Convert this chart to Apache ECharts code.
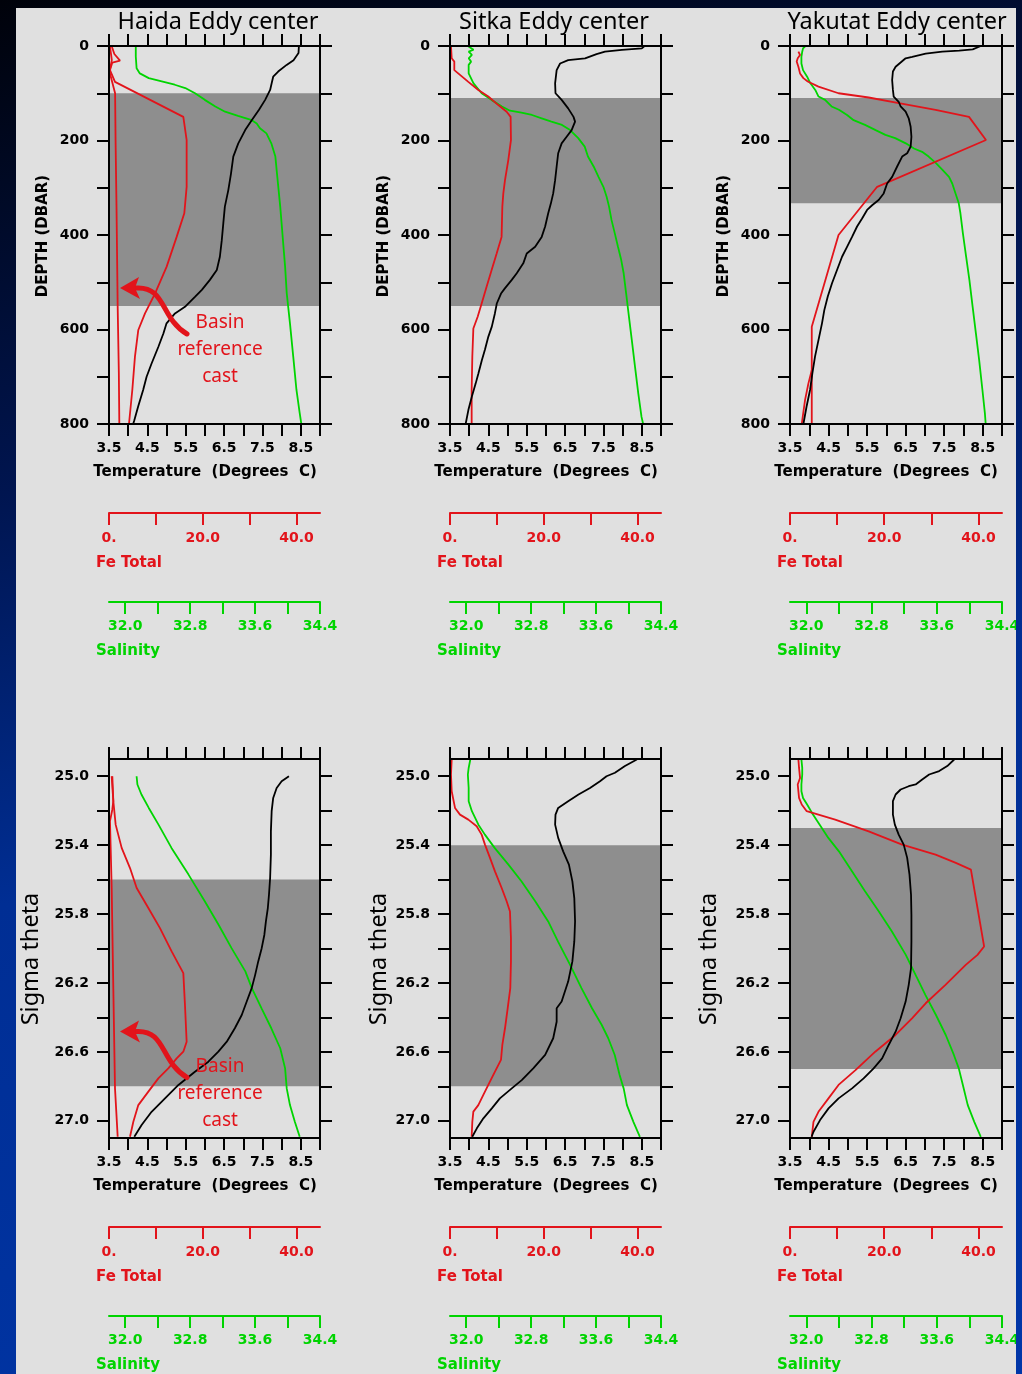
<!DOCTYPE html>
<html><head><meta charset="utf-8">
<script src="https://cdn.jsdelivr.net/npm/echarts@6/dist/echarts.min.js"></script>
<style>
html,body{margin:0;padding:0;width:1022px;height:1374px;overflow:hidden;
background:linear-gradient(165deg,#00020a 0%,#001550 30%,#002e94 55%,#0036a8 100%);}
#panel{position:absolute;left:16px;top:8px;width:1000px;height:1366px;background:#e0e0e0;overflow:hidden;}
#chart{position:absolute;left:0;top:0;width:1000px;height:1366px;}
</style></head><body><div id="panel"><div id="chart"></div></div>
<script>
// ---------- tick / label values ----------
const TEMP_TICKS = [3.5,4.0,4.5,5.0,5.5,6.0,6.5,7.0,7.5,8.0,8.5,9.0];
const TEMP_LABELS = [3.5,4.5,5.5,6.5,7.5,8.5];
const FE_TICKS = [0,10,20,30,40];
const FE_LABELS = [0,20,40];
const SAL_TICKS = [32.0,32.4,32.8,33.2,33.6,34.0,34.4];
const SAL_LABELS = [32.0,32.8,33.6,34.4];
const DEPTH_TICKS = [0,100,200,300,400,500,600,700,800];
const DEPTH_LABELS = [0,200,400,600,800];
const SIGMA_TICKS = [25.0,25.2,25.4,25.6,25.8,26.0,26.2,26.4,26.6,26.8,27.0];
const SIGMA_LABELS = [25.0,25.4,25.8,26.2,26.6,27.0];
const TITLES = ['Haida Eddy center','Sitka Eddy center','Yakutat Eddy center'];

// shaded layers [top, bottom]
const SHADE_DEPTH = [[100,550],[110,550],[110,333]];
const SHADE_SIGMA = [[25.6,26.8],[25.4,26.8],[25.3,26.7]];

// ---------- data: [depth, value] ----------
const haidaTopTemp = [[0,8.45],[15,8.44],[30,8.31],[40,8.13],[54,7.91],[65,7.78],[79,7.74],[93,7.70],[114,7.57],[135,7.41],[157,7.22],[178,7.05],[206,6.87],[234,6.74],[270,6.68],[305,6.61],[340,6.52],[375,6.48],[411,6.44],[446,6.39],[474,6.31],[495,6.13],[516,5.92],[531,5.74],[552,5.48],[566,5.22],[587,5.00],[608,4.92],[636,4.79],[672,4.61],[700,4.48],[728,4.39],[763,4.26],[792,4.16],[800,4.13]];
const haidaTopSal = [[0,32.13],[22,32.13],[47,32.14],[58,32.18],[68,32.29],[75,32.45],[82,32.61],[89,32.74],[100,32.86],[114,32.98],[128,33.11],[139,33.23],[148,33.39],[157,33.56],[164,33.62],[174,33.66],[185,33.74],[206,33.80],[234,33.85],[270,33.87],[305,33.89],[340,33.91],[382,33.93],[425,33.95],[467,33.97],[523,33.99],[587,34.03],[657,34.07],[728,34.11],[777,34.15],[800,34.17]];
const haidaTopFe = [[0,0.57],[17,1.14],[31,2.35],[35,0.71],[51,0.21],[76,1.28],[150,15.85],[199,16.56],[298,16.56],[354,16.06],[404,14.43],[467,12.30],[524,9.81],[566,7.68],[601,6.25],[657,5.54],[728,4.97],[800,4.26]];
const haidaTopFeRef = [[0,0.2],[30,0.6],[54,0.1],[100,1.3],[199,1.4],[340,1.6],[552,1.85],[693,2.1],[800,2.2]];

const sitkaTopTemp = [[0,8.57],[5,8.50],[8,7.98],[12,7.54],[17,7.32],[26,7.02],[30,6.58],[37,6.37],[51,6.28],[79,6.24],[100,6.25],[114,6.41],[132,6.58],[150,6.72],[160,6.76],[178,6.67],[192,6.54],[206,6.41],[227,6.32],[255,6.28],[284,6.24],[312,6.19],[333,6.13],[354,6.06],[382,5.98],[404,5.89],[425,5.72],[439,5.50],[460,5.41],[481,5.24],[495,5.11],[513,4.93],[524,4.83],[545,4.72],[566,4.67],[594,4.59],[615,4.50],[643,4.41],[665,4.33],[693,4.24],[714,4.17],[742,4.07],[770,3.98],[799,3.91]];
const sitkaTopSal = [[0,32.02],[8,32.09],[12,32.03],[19,32.07],[26,32.03],[33,32.06],[40,32.03],[58,32.03],[79,32.09],[100,32.19],[114,32.31],[128,32.44],[137,32.54],[141,32.68],[146,32.81],[153,32.93],[160,33.05],[167,33.18],[178,33.28],[195,33.38],[213,33.46],[234,33.50],[255,33.57],[277,33.63],[298,33.69],[319,33.73],[340,33.76],[368,33.79],[396,33.83],[425,33.87],[453,33.91],[481,33.94],[523,33.97],[566,34.00],[622,34.04],[679,34.08],[735,34.12],[785,34.16],[800,34.18]];
const sitkaTopFe = [[0,0.21],[26,0.36],[33,0.92],[51,0.92],[61,2.13],[76,3.91],[93,6.04],[107,8.17],[125,10.3],[139,12.08],[150,12.93],[199,13.0],[241,12.44],[284,11.73],[312,11.37],[340,11.16],[404,11.0],[439,9.95],[474,8.88],[509,7.82],[545,6.75],[573,5.9],[598,4.98],[657,4.76],[728,4.62],[800,4.62]];

const yakTopTemp = [[0,8.45],[7,8.24],[10,7.89],[12,7.45],[16,7.02],[23,6.67],[26,6.50],[35,6.37],[44,6.24],[54,6.17],[72,6.15],[93,6.17],[107,6.19],[118,6.32],[128,6.37],[139,6.50],[153,6.58],[171,6.63],[192,6.65],[213,6.63],[227,6.54],[234,6.41],[255,6.28],[277,6.15],[291,6.02],[312,5.93],[326,5.80],[337,5.63],[347,5.50],[365,5.37],[382,5.24],[404,5.11],[425,4.98],[446,4.85],[474,4.72],[502,4.59],[530,4.48],[559,4.39],[587,4.33],[622,4.24],[657,4.15],[693,4.08],[728,4.02],[763,3.93],[799,3.85]];
const yakTopSal = [[0,31.99],[5,31.96],[12,31.95],[23,31.94],[37,31.94],[51,31.96],[65,32.01],[79,32.05],[93,32.11],[107,32.15],[114,32.23],[128,32.31],[135,32.40],[146,32.50],[157,32.58],[167,32.72],[178,32.85],[188,32.97],[195,33.09],[206,33.22],[217,33.32],[224,33.42],[234,33.50],[248,33.59],[262,33.67],[277,33.75],[291,33.79],[312,33.83],[333,33.87],[354,33.89],[396,33.92],[446,33.96],[495,34.00],[552,34.04],[608,34.08],[665,34.12],[728,34.16],[777,34.19],[800,34.20]];
const yakTopFe = [[12,1.78],[19,2.13],[26,1.64],[33,1.42],[44,1.78],[58,2.13],[68,2.84],[75,3.77],[86,6.04],[100,10.3],[109,16.7],[121,23.1],[135,30.9],[150,38.0],[199,41.6],[298,18.5],[400,10.3],[594,4.62],[800,4.62]];
const yakTopFe2 = [[686,4.62],[714,3.91],[749,3.2],[800,2.49]];

// ---------- data: [sigma-theta, value] ----------
const haidaBotTemp = [[25.0,8.19],[25.029,8.0],[25.068,7.87],[25.126,7.78],[25.203,7.74],[25.32,7.72],[25.397,7.72],[25.455,7.72],[25.591,7.70],[25.688,7.67],[25.765,7.64],[25.843,7.59],[25.92,7.55],[25.998,7.48],[26.075,7.39],[26.153,7.31],[26.23,7.22],[26.308,7.09],[26.386,6.96],[26.463,6.78],[26.541,6.57],[26.599,6.35],[26.657,6.09],[26.715,5.74],[26.792,5.31],[26.87,4.96],[26.948,4.61],[27.025,4.35],[27.093,4.16]];
const haidaBotSal = [[25.0,32.14],[25.048,32.15],[25.106,32.20],[25.184,32.29],[25.281,32.41],[25.416,32.57],[25.571,32.78],[25.726,32.98],[25.862,33.15],[25.998,33.31],[26.133,33.48],[26.23,33.56],[26.347,33.68],[26.463,33.80],[26.579,33.91],[26.696,33.97],[26.812,33.99],[26.909,34.03],[27.006,34.09],[27.093,34.15]];
const haidaBotFe = [[25.0,0.71],[25.144,0.92],[25.281,1.42],[25.416,2.70],[25.533,4.48],[25.649,5.90],[25.765,8.39],[25.882,10.87],[26.017,13.36],[26.143,15.85],[26.327,16.2],[26.541,16.56],[26.599,15.85],[26.638,14.43],[26.696,12.65],[26.754,10.52],[26.831,8.39],[26.909,6.25],[27.006,5.19],[27.093,4.48]];
const haidaBotFeRef = [[25.0,0.57],[25.144,0.92],[25.155,1.28],[25.193,0.71],[25.261,0.21],[25.649,0.57],[26.23,0.92],[26.812,1.28],[27.093,1.85]];

const sitkaBotTemp = [[24.903,8.37],[24.941,8.06],[24.98,7.80],[25.0,7.58],[25.029,7.41],[25.068,7.15],[25.106,6.85],[25.145,6.58],[25.184,6.32],[25.223,6.25],[25.281,6.24],[25.358,6.32],[25.436,6.45],[25.513,6.60],[25.61,6.69],[25.707,6.74],[25.843,6.76],[25.959,6.74],[26.075,6.69],[26.192,6.58],[26.308,6.41],[26.347,6.28],[26.425,6.28],[26.521,6.19],[26.618,5.98],[26.696,5.67],[26.764,5.37],[26.812,5.11],[26.87,4.80],[26.928,4.59],[26.986,4.37],[27.044,4.20],[27.093,4.08]];
const sitkaBotSal = [[24.903,32.05],[24.952,32.03],[24.99,32.02],[25.068,32.03],[25.145,32.03],[25.203,32.07],[25.281,32.15],[25.339,32.23],[25.416,32.35],[25.513,32.52],[25.61,32.68],[25.726,32.85],[25.843,33.01],[25.959,33.13],[26.095,33.28],[26.23,33.42],[26.347,33.55],[26.444,33.67],[26.521,33.75],[26.618,33.83],[26.734,33.89],[26.812,33.94],[26.909,33.98],[27.006,34.06],[27.093,34.14]];
const sitkaBotFe = [[24.903,0.36],[24.99,0.21],[25.087,0.36],[25.184,1.07],[25.223,2.13],[25.252,3.91],[25.29,5.69],[25.339,6.75],[25.397,7.46],[25.474,8.53],[25.552,9.59],[25.649,11.02],[25.726,12.08],[25.785,12.79],[25.94,13.0],[26.075,13.0],[26.23,12.86],[26.347,12.3],[26.463,11.73],[26.56,11.16],[26.647,10.87],[26.715,9.59],[26.792,8.17],[26.85,7.11],[26.909,6.04],[26.947,4.98],[27.006,4.76],[27.093,4.62]];

const yakBotTemp = [[24.903,7.76],[24.941,7.58],[24.97,7.37],[24.99,7.11],[25.019,6.93],[25.048,6.76],[25.058,6.58],[25.077,6.37],[25.106,6.24],[25.145,6.17],[25.223,6.17],[25.281,6.22],[25.339,6.32],[25.397,6.45],[25.474,6.54],[25.571,6.60],[25.688,6.64],[25.804,6.65],[25.959,6.65],[26.114,6.64],[26.211,6.58],[26.308,6.50],[26.405,6.37],[26.483,6.24],[26.56,6.06],[26.638,5.89],[26.696,5.67],[26.754,5.41],[26.812,5.11],[26.87,4.76],[26.928,4.50],[26.996,4.28],[27.064,4.11],[27.093,4.06]];
const yakBotSal = [[24.903,31.94],[24.952,31.95],[24.99,31.95],[25.048,31.94],[25.087,31.94],[25.126,31.96],[25.164,32.01],[25.213,32.07],[25.271,32.15],[25.358,32.27],[25.436,32.40],[25.552,32.56],[25.668,32.72],[25.785,32.89],[25.901,33.05],[26.037,33.22],[26.153,33.34],[26.269,33.46],[26.386,33.59],[26.502,33.71],[26.618,33.81],[26.696,33.87],[26.792,33.92],[26.909,33.98],[27.006,34.06],[27.093,34.14]];
const yakBotFe = [[24.903,1.78],[24.952,1.92],[25.01,2.13],[25.048,1.64],[25.126,1.92],[25.164,2.49],[25.203,3.55],[25.252,9.59],[25.32,16.7],[25.397,23.8],[25.455,30.9],[25.503,35.2],[25.542,38.4],[25.765,39.8],[25.988,41.2],[26.037,39.8],[26.095,37.3],[26.211,33.0],[26.318,28.8],[26.405,25.9],[26.502,22.4],[26.599,18.1],[26.706,13.9],[26.792,10.3],[26.87,8.17],[26.948,6.04],[27.006,4.98],[27.093,4.62]];

// ---------- layout ----------
const OX = 16, OY = 8;              // panel offset inside the window
const COL_LEFT = [109, 450, 790];
const PLOT_W = [211, 211, 212];
const ROW_TOP = [46, 759];
const PLOT_H = [378, 379];
const RED = '#e2141b', GREEN = '#00d400', BLACK = '#000', SHADE = '#8e8e8e';
const FONT = '"DejaVu Sans", sans-serif';

const panels = [
  {row:0,col:0,temp:haidaTopTemp,sal:haidaTopSal,fe:[haidaTopFe,haidaTopFeRef],shade:SHADE_DEPTH[0]},
  {row:0,col:1,temp:sitkaTopTemp,sal:sitkaTopSal,fe:[sitkaTopFe],shade:SHADE_DEPTH[1]},
  {row:0,col:2,temp:yakTopTemp,sal:yakTopSal,fe:[yakTopFe,yakTopFe2],shade:SHADE_DEPTH[2]},
  {row:1,col:0,temp:haidaBotTemp,sal:haidaBotSal,fe:[haidaBotFe,haidaBotFeRef],shade:SHADE_SIGMA[0]},
  {row:1,col:1,temp:sitkaBotTemp,sal:sitkaBotSal,fe:[sitkaBotFe],shade:SHADE_SIGMA[1]},
  {row:1,col:2,temp:yakBotTemp,sal:yakBotSal,fe:[yakBotFe],shade:SHADE_SIGMA[2]}
];

const grid = [], xAxis = [], yAxis = [], series = [];
const fmt1 = v => Number(v).toFixed(1);
const LABEL_FONT = {fontSize:14, fontWeight:'bold', fontFamily:FONT};

function xAx(g, opt) {
  return Object.assign({
    type:'value', gridIndex:g, z:10,
    axisLine:{show:true, onZero:false, lineStyle:{color:opt.color, width:2}},
    axisTick:{show:true, inside:false, length:12, lineStyle:{color:opt.color, width:2}, customValues:opt.ticks},
    axisLabel:opt.labels ? Object.assign({show:true, customValues:opt.labels, formatter:opt.formatter, margin:opt.margin,
      color:opt.color}, LABEL_FONT) : {show:false},
    splitLine:{show:false}
  }, opt.extra);
}

panels.forEach((p, g) => {
  const top = p.row === 0;
  grid.push({left:COL_LEFT[p.col]-OX, top:ROW_TOP[p.row]-OY, width:PLOT_W[p.col], height:PLOT_H[p.row],
    show:false, containLabel:false, outerBoundsMode:'none'});
  // x axes: 0 temp bottom, 1 temp top, 2 Fe, 3 salinity
  xAxis.push(xAx(g,{color:BLACK, ticks:TEMP_TICKS, labels:TEMP_LABELS, formatter:fmt1, margin:17,
    extra:{position:'bottom', min:3.5, max:9.0}}));
  xAxis.push(xAx(g,{color:BLACK, ticks:TEMP_TICKS, labels:null, extra:{position:'top', min:3.5, max:9.0}}));
  xAxis.push(xAx(g,{color:RED, ticks:FE_TICKS, labels:FE_LABELS,
    formatter:v => (v === 0 ? '0.' : fmt1(v)), margin:18,
    extra:{position:'bottom', offset:89, min:0, max:45}}));
  xAxis.push(xAx(g,{color:GREEN, ticks:SAL_TICKS, labels:SAL_LABELS, formatter:fmt1, margin:17,
    extra:{position:'bottom', offset:178, min:31.8, max:34.4}}));
  const yBase = top ? {min:0, max:800, ticks:DEPTH_TICKS, labels:DEPTH_LABELS, f:v=>String(v)}
                    : {min:24.9, max:27.1, ticks:SIGMA_TICKS, labels:SIGMA_LABELS, f:fmt1};
  yAxis.push({type:'value', gridIndex:g, position:'left', inverse:true, min:yBase.min, max:yBase.max, z:10,
    axisLine:{show:true, onZero:false, lineStyle:{color:BLACK, width:2}},
    axisTick:{show:true, inside:false, length:12, lineStyle:{color:BLACK, width:2}, customValues:yBase.ticks},
    axisLabel:Object.assign({show:true, customValues:yBase.labels, formatter:yBase.f, margin:20, color:BLACK}, LABEL_FONT),
    splitLine:{show:false}});
  yAxis.push({type:'value', gridIndex:g, position:'right', inverse:true, min:yBase.min, max:yBase.max, z:10,
    axisLine:{show:true, onZero:false, lineStyle:{color:BLACK, width:2}},
    axisTick:{show:true, inside:false, length:12, lineStyle:{color:BLACK, width:2}, customValues:yBase.ticks},
    axisLabel:{show:false}, splitLine:{show:false}});

  const xi = 4*g, yi = 2*g;
  series.push({type:'line', xAxisIndex:xi, yAxisIndex:yi, data:[], z:1, silent:true,
    markArea:{silent:true, itemStyle:{color:SHADE, opacity:1}, data:[[{yAxis:p.shade[0]},{yAxis:p.shade[1]}]]}});
  const mk = (arr, axis, color) => ({type:'line', xAxisIndex:xi+axis, yAxisIndex:yi, z:3, silent:true,
    showSymbol:false, symbol:'none', clip:true, animation:false,
    lineStyle:{color:color, width:1.8}, data:arr.map(d => [d[1], d[0]])});
  series.push(mk(p.sal, 3, GREEN));
  p.fe.forEach(f => series.push(mk(f, 2, RED)));
  series.push(mk(p.temp, 0, BLACK));
});

// ---------- text & annotations ----------
const graphic = [];
const T = (x, y, text, font, color, align, rot) => graphic.push({type:'text', x:x-OX, y:y-OY, rotation:rot||0, z:20,
  style:{text:text, font:font, fill:color, align:align||'center', verticalAlign:'middle'}});
const TITLE_CX = [218, 554, 897];
const SIGMA_X = [31, 379, 709];
const BOLD15 = 'bold 15px ' + FONT;
for (let c = 0; c < 3; c++) {
  T(TITLE_CX[c], 22, TITLES[c], '23.5px "Noto Sans", sans-serif', BLACK);
  T(COL_LEFT[c]-66, 236, 'DEPTH (DBAR)', BOLD15, BLACK, 'center', Math.PI/2);
  T(SIGMA_X[c], 959, 'Sigma theta', '23.5px "Noto Sans", sans-serif', BLACK, 'center', Math.PI/2);
  for (let r = 0; r < 2; r++) {
    const yb = ROW_TOP[r] + PLOT_H[r];
    T(COL_LEFT[c]+96, yb+48, 'Temperature  (Degrees  C)', BOLD15, BLACK);
    T(COL_LEFT[c]-13, yb+139, 'Fe Total', BOLD15, RED, 'left');
    T(COL_LEFT[c]-13, yb+227, 'Salinity', BOLD15, GREEN, 'left');
  }
}
// "Basin reference cast" annotation with curved arrow (Haida panels)
[0, 743.5].forEach(dy => {
  T(220, 323+dy, 'Basin', '19px "Noto Sans", sans-serif', RED);
  T(220, 350+dy, 'reference', '19px "Noto Sans", sans-serif', RED);
  T(220, 377+dy, 'cast', '19px "Noto Sans", sans-serif', RED);
  graphic.push({type:'bezierCurve', z:20,
    shape:{x1:187-OX, y1:334+dy-OY, cpx1:160-OX, cpy1:318+dy-OY, cpx2:166-OX, cpy2:286+dy-OY, x2:136-OX, y2:288+dy-OY},
    style:{stroke:RED, lineWidth:5, fill:null, lineCap:'round'}});
  graphic.push({type:'polygon', z:20,
    shape:{points:[[120-OX,288+dy-OY],[139-OX,277+dy-OY],[135-OX,288+dy-OY],[140-OX,299+dy-OY]]},
    style:{fill:RED}});
});

const chart = echarts.init(document.getElementById('chart'), null, {renderer:'canvas'});
chart.setOption({animation:false, backgroundColor:'transparent', grid, xAxis, yAxis, series, graphic});
</script></body></html>
